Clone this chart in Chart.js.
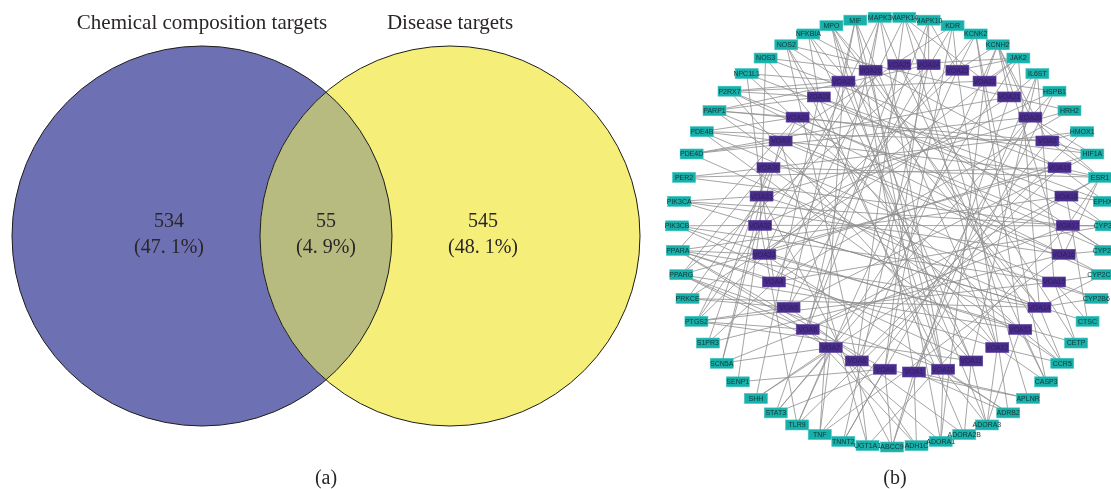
<!DOCTYPE html>
<html>
<head>
<meta charset="utf-8">
<script src="https://cdn.jsdelivr.net/npm/chart.js@4/dist/chart.umd.min.js"></script>
<style>
  html, body { margin: 0; padding: 0; background: #fff; }
  canvas { display: block; }
</style>
</head>
<body>
<canvas id="chart" width="1111" height="489"></canvas>
<script>
// (a) Venn diagram
const vennSets = ["Chemical composition targets", "Disease targets"];
const vennCounts = [534, 55, 545];
const vennShares = ["47. 1%", "4. 9%", "48. 1%"];

// (b) compound-target network
const compounds = [
    "VOA1", "VOA2", "VOA3", "VOA4", "VOA5", "VOA6", "VOA7", "VOA8", "VOA9", "VOA10",
    "VOA11", "VOA12", "VOA13", "VOA14", "VOA15", "VOA16", "VOA17", "VOA18", "VOA19", "VOA20",
    "VOA21", "VOA22", "VOA23", "VOA24", "VOA25", "VOA26", "VOA27", "VOA28", "VOA29", "VOA30",
    "VOA31", "VOA32", "VOA33"
];
const targets = [
    "ABCC9", "ADH1C", "ADORA1", "ADORA2B", "ADORA3", "ADRB2", "APLNR", "CASP3", "CCR5", "CETP",
    "CTSC", "CYP2B6", "CYP2C19", "CYP2C9", "CYP3A4", "EPHX2", "ESR1", "HIF1A", "HMOX1", "HRH2",
    "HSPB1", "IL6ST", "JAK2", "KCNH2", "KCNK2", "KDR", "MAPK10", "MAPK14", "MAPK3", "MIF",
    "MPO", "NFKBIA", "NOS2", "NOS3", "NPC1L1", "P2RX7", "PARP1", "PDE4B", "PDE4D", "PER2",
    "PIK3CA", "PIK3CB", "PPARA", "PPARG", "PRKCE", "PTGS2", "S1PR3", "SCN5A", "SENP1", "SHH",
    "STAT3", "TLR9", "TNF", "TNNT2", "UGT1A1"
];
const edges = [
    ["VOA9", "ABCC9"], ["VOA1", "ABCC9"], ["VOA31", "ABCC9"], ["VOA21", "ABCC9"],
    ["VOA1", "ADH1C"], ["VOA6", "ADH1C"], ["VOA8", "ADH1C"],
    ["VOA10", "ADORA1"], ["VOA26", "ADORA1"], ["VOA7", "ADORA1"], ["VOA22", "ADORA1"],
    ["VOA11", "ADORA2B"], ["VOA28", "ADORA2B"], ["VOA5", "ADORA2B"],
    ["VOA11", "ADORA3"], ["VOA12", "ADORA3"], ["VOA13", "ADORA3"], ["VOA10", "ADORA3"], ["VOA27", "ADORA3"],
    ["VOA1", "ADRB2"], ["VOA10", "ADRB2"], ["VOA33", "ADRB2"], ["VOA23", "ADRB2"],
    ["VOA1", "APLNR"], ["VOA9", "APLNR"], ["VOA24", "APLNR"],
    ["VOA13", "CASP3"], ["VOA12", "CASP3"], ["VOA22", "CASP3"], ["VOA25", "CASP3"],
    ["VOA13", "CCR5"], ["VOA12", "CCR5"], ["VOA14", "CCR5"], ["VOA30", "CCR5"], ["VOA26", "CCR5"],
    ["VOA15", "CETP"], ["VOA25", "CETP"], ["VOA33", "CETP"],
    ["VOA15", "CTSC"], ["VOA18", "CTSC"], ["VOA32", "CTSC"],
    ["VOA15", "CYP2B6"], ["VOA14", "CYP2B6"], ["VOA31", "CYP2B6"],
    ["VOA14", "CYP2C19"], ["VOA15", "CYP2C19"], ["VOA16", "CYP2C19"], ["VOA3", "CYP2C19"],
    ["VOA16", "CYP2C9"], ["VOA17", "CYP2C9"], ["VOA29", "CYP2C9"], ["VOA27", "CYP2C9"],
    ["VOA17", "CYP3A4"], ["VOA32", "CYP3A4"], ["VOA18", "CYP3A4"], ["VOA4", "CYP3A4"], ["VOA28", "CYP3A4"],
    ["VOA18", "EPHX2"], ["VOA19", "EPHX2"], ["VOA28", "EPHX2"],
    ["VOA19", "ESR1"], ["VOA18", "ESR1"], ["VOA17", "ESR1"], ["VOA16", "ESR1"],
    ["VOA2", "ESR1"], ["VOA20", "ESR1"], ["VOA30", "ESR1"], ["VOA6", "ESR1"], ["VOA3", "ESR1"],
    ["VOA2", "HIF1A"], ["VOA20", "HIF1A"], ["VOA5", "HIF1A"], ["VOA33", "HIF1A"], ["VOA29", "HIF1A"],
    ["VOA2", "HMOX1"], ["VOA8", "HMOX1"], ["VOA30", "HMOX1"],
    ["VOA21", "HRH2"], ["VOA4", "HRH2"], ["VOA31", "HRH2"],
    ["VOA20", "HSPB1"], ["VOA22", "HSPB1"], ["VOA1", "HSPB1"], ["VOA32", "HSPB1"],
    ["VOA21", "IL6ST"], ["VOA15", "IL6ST"], ["VOA11", "IL6ST"], ["VOA1", "IL6ST"],
    ["VOA22", "JAK2"], ["VOA23", "JAK2"], ["VOA25", "JAK2"], ["VOA14", "JAK2"], ["VOA7", "JAK2"], ["VOA33", "JAK2"],
    ["VOA22", "KCNH2"], ["VOA23", "KCNH2"], ["VOA21", "KCNH2"], ["VOA20", "KCNH2"], ["VOA2", "KCNH2"],
    ["VOA16", "KCNH2"], ["VOA8", "KCNH2"],
    ["VOA22", "KCNK2"], ["VOA23", "KCNK2"], ["VOA13", "KCNK2"], ["VOA4", "KCNK2"],
    ["VOA23", "KDR"], ["VOA3", "KDR"], ["VOA9", "KDR"], ["VOA5", "KDR"],
    ["VOA23", "MAPK10"], ["VOA24", "MAPK10"], ["VOA6", "MAPK10"], ["VOA9", "MAPK10"],
    ["VOA24", "MAPK14"], ["VOA22", "MAPK14"], ["VOA4", "MAPK14"], ["VOA12", "MAPK14"], ["VOA8", "MAPK14"],
    ["VOA25", "MAPK3"], ["VOA26", "MAPK3"], ["VOA33", "MAPK3"], ["VOA10", "MAPK3"], ["VOA6", "MAPK3"],
    ["VOA27", "MIF"], ["VOA5", "MIF"], ["VOA12", "MIF"], ["VOA1", "MIF"], ["VOA10", "MIF"],
    ["VOA27", "MPO"], ["VOA26", "MPO"], ["VOA10", "MPO"], ["VOA14", "MPO"], ["VOA11", "MPO"],
    ["VOA28", "NFKBIA"], ["VOA11", "NFKBIA"], ["VOA19", "NFKBIA"], ["VOA14", "NFKBIA"],
    ["VOA27", "NOS2"], ["VOA28", "NOS2"], ["VOA21", "NOS2"], ["VOA8", "NOS2"], ["VOA10", "NOS2"],
    ["VOA26", "NOS3"], ["VOA19", "NOS3"], ["VOA32", "NOS3"], ["VOA12", "NOS3"],
    ["VOA27", "NPC1L1"], ["VOA18", "NPC1L1"], ["VOA4", "NPC1L1"], ["VOA13", "NPC1L1"],
    ["VOA28", "P2RX7"], ["VOA27", "P2RX7"], ["VOA22", "P2RX7"], ["VOA17", "P2RX7"], ["VOA16", "P2RX7"], ["VOA11", "P2RX7"],
    ["VOA28", "PARP1"], ["VOA29", "PARP1"], ["VOA24", "PARP1"], ["VOA16", "PARP1"], ["VOA13", "PARP1"], ["VOA2", "PARP1"],
    ["VOA3", "PDE4B"], ["VOA29", "PDE4B"], ["VOA15", "PDE4B"], ["VOA2", "PDE4B"], ["VOA12", "PDE4B"],
    ["VOA3", "PDE4D"], ["VOA14", "PDE4D"], ["VOA20", "PDE4D"], ["VOA21", "PDE4D"],
    ["VOA19", "PER2"], ["VOA30", "PER2"], ["VOA17", "PER2"],
    ["VOA14", "PIK3CA"], ["VOA31", "PIK3CA"], ["VOA17", "PIK3CA"], ["VOA16", "PIK3CA"],
    ["VOA15", "PIK3CB"], ["VOA32", "PIK3CB"], ["VOA11", "PIK3CB"], ["VOA13", "PIK3CB"],
    ["VOA33", "PPARA"], ["VOA4", "PPARA"], ["VOA8", "PPARA"], ["VOA9", "PPARA"],
    ["VOA12", "PPARA"], ["VOA14", "PPARA"], ["VOA29", "PPARA"], ["VOA18", "PPARA"],
    ["VOA6", "PPARG"], ["VOA7", "PPARG"], ["VOA10", "PPARG"], ["VOA13", "PPARG"], ["VOA30", "PPARG"],
    ["VOA24", "PPARG"], ["VOA19", "PPARG"],
    ["VOA31", "PRKCE"], ["VOA5", "PRKCE"], ["VOA21", "PRKCE"], ["VOA14", "PRKCE"],
    ["VOA6", "PTGS2"], ["VOA5", "PTGS2"], ["VOA29", "PTGS2"], ["VOA26", "PTGS2"], ["VOA23", "PTGS2"],
    ["VOA11", "PTGS2"], ["VOA15", "PTGS2"],
    ["VOA30", "S1PR3"], ["VOA4", "S1PR3"], ["VOA16", "S1PR3"],
    ["VOA3", "SCN5A"], ["VOA7", "SCN5A"], ["VOA31", "SCN5A"], ["VOA17", "SCN5A"],
    ["VOA9", "SENP1"], ["VOA32", "SENP1"],
    ["VOA28", "SHH"], ["VOA7", "SHH"], ["VOA18", "SHH"],
    ["VOA7", "STAT3"], ["VOA9", "STAT3"], ["VOA20", "STAT3"], ["VOA25", "STAT3"],
    ["VOA7", "TLR9"], ["VOA23", "TLR9"], ["VOA32", "TLR9"], ["VOA19", "TLR9"],
    ["VOA7", "TNF"], ["VOA16", "TNF"], ["VOA2", "TNF"], ["VOA27", "TNF"],
    ["VOA9", "TNNT2"], ["VOA24", "TNNT2"], ["VOA20", "TNNT2"],
    ["VOA8", "UGT1A1"], ["VOA3", "UGT1A1"], ["VOA17", "UGT1A1"]
];

// circle layout, nodes sorted by name (as Cytoscape does), starting at the bottom
const ringLayout = (names, cx, cy, r) => {
    const pos = {};
    names.slice().sort().forEach((name, i, list) => {
        const a = (i / list.length) * 2 * Math.PI;
        pos[name] = { x: cx + r * Math.sin(a), y: cy + r * Math.cos(a) };
    });
    return pos;
};
const targetPos = ringLayout(targets, 892, 232, 215);
const compoundPos = ringLayout(compounds, 914, 218, 154);

const edgeData = edges.flatMap(([c, t]) => [
    compoundPos[c],
    targetPos[t],
    { x: targetPos[t].x, y: null }
]);

const serif = '"Liberation Serif", "Times New Roman", serif';

const vennPlugin = {
    id: "venn",
    beforeDatasetsDraw(chart) {
        const { ctx, scales: { x, y } } = chart;
        const circle = (cx, cy, r) => {
            ctx.beginPath();
            ctx.arc(x.getPixelForValue(cx), y.getPixelForValue(cy),
                x.getPixelForValue(cx + r) - x.getPixelForValue(cx), 0, 2 * Math.PI);
        };
        ctx.save();
        circle(202, 236, 190);
        ctx.fillStyle = "#6d71b3";
        ctx.fill();
        circle(450, 236, 190);
        ctx.fillStyle = "#f5ee79";
        ctx.fill();
        ctx.save();
        circle(202, 236, 190);
        ctx.clip();
        circle(450, 236, 190);
        ctx.fillStyle = "#b7bb80";
        ctx.fill();
        ctx.restore();
        ctx.strokeStyle = "#1d1d1b";
        ctx.lineWidth = 1;
        circle(202, 236, 190);
        ctx.stroke();
        circle(450, 236, 190);
        ctx.stroke();

        ctx.fillStyle = "#2a2627";
        ctx.textAlign = "center";
        ctx.textBaseline = "middle";
        ctx.font = "21px " + serif;
        ctx.fillText(vennSets[0], x.getPixelForValue(202), y.getPixelForValue(23));
        ctx.fillText(vennSets[1], x.getPixelForValue(450), y.getPixelForValue(23));
        ctx.font = "20px " + serif;
        [169, 326, 483].forEach((cx, i) => {
            ctx.fillText(String(vennCounts[i]), x.getPixelForValue(cx), y.getPixelForValue(222));
            ctx.fillText("(" + vennShares[i] + ")", x.getPixelForValue(cx), y.getPixelForValue(248));
        });
        ctx.fillText("(a)", x.getPixelForValue(326), y.getPixelForValue(479));
        ctx.fillText("(b)", x.getPixelForValue(895), y.getPixelForValue(479));
        ctx.restore();
    }
};

const nodePlugin = {
    id: "nodes",
    afterDatasetsDraw(chart) {
        const { ctx } = chart;
        const styles = [
            null,
            { fill: "#4a2c8a", edge: "#5d44a0", text: "#2b2262" },
            { fill: "#17b0aa", edge: "#43c4be", text: "#123534" }
        ];
        ctx.save();
        ctx.font = '7px "Liberation Sans", Arial, sans-serif';
        ctx.textAlign = "center";
        ctx.textBaseline = "middle";
        [1, 2].forEach((di) => {
            const meta = chart.getDatasetMeta(di);
            const names = chart.data.datasets[di].names;
            const s = styles[di];
            meta.data.forEach((pt, i) => {
                ctx.fillStyle = s.fill;
                ctx.fillRect(pt.x - 11.5, pt.y - 5, 23, 10);
                ctx.strokeStyle = s.edge;
                ctx.lineWidth = 0.6;
                ctx.strokeRect(pt.x - 11.5, pt.y - 5, 23, 10);
                ctx.fillStyle = s.text;
                ctx.fillText(names[i], pt.x, pt.y + 0.5);
            });
        });
        ctx.restore();
    }
};

new Chart(document.getElementById("chart"), {
    type: "scatter",
    data: {
        datasets: [
            {
                label: "Interactions",
                data: edgeData,
                showLine: true,
                spanGaps: false,
                borderColor: "#8e8e8e",
                borderWidth: 0.8,
                pointRadius: 0,
                pointHoverRadius: 0
            },
            {
                label: "Compounds",
                names: compounds,
                data: compounds.map((n) => compoundPos[n]),
                pointRadius: 0,
                pointHoverRadius: 0
            },
            {
                label: "Targets",
                names: targets,
                data: targets.map((n) => targetPos[n]),
                pointRadius: 0,
                pointHoverRadius: 0
            }
        ]
    },
    options: {
        responsive: false,
        animation: false,
        events: [],
        layout: { padding: 0 },
        plugins: {
            legend: { display: false },
            tooltip: { enabled: false }
        },
        scales: {
            x: { type: "linear", min: 0, max: 1111, display: false },
            y: { type: "linear", min: 0, max: 489, reverse: true, display: false }
        }
    },
    plugins: [vennPlugin, nodePlugin]
});
</script>
</body>
</html>
